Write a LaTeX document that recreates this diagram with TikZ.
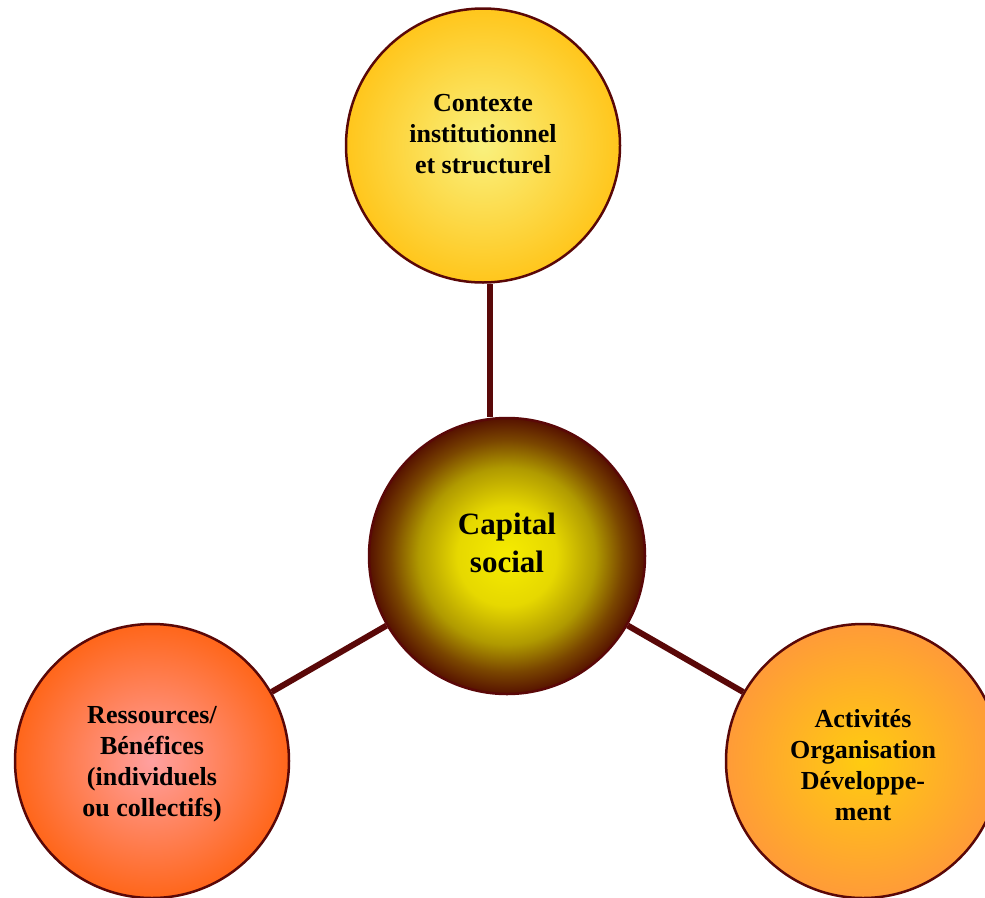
\documentclass[tikz,border=0pt]{standalone}
\usepackage{fontspec}
\setmainfont{Liberation Serif}
\definecolor{bordeau}{HTML}{5A0808}
\definecolor{contexteIn}{HTML}{F9F17E}
\definecolor{contexteOut}{HTML}{FFC61C}
\definecolor{capitalIn}{HTML}{F6EC00}
\definecolor{capitalMid}{HTML}{E6D800}
\definecolor{capitalDark}{HTML}{B09A00}
\definecolor{capitalRim}{HTML}{7A4600}
\definecolor{capitalOut}{HTML}{561200}
\definecolor{ressourcesIn}{HTML}{FFA0A0}
\definecolor{ressourcesOut}{HTML}{FF661A}
\definecolor{activitesIn}{HTML}{FFCC10}
\definecolor{activitesOut}{HTML}{FF9B38}
\pgfdeclareradialshading{contexteshade}{\pgfpoint{0bp}{0bp}}{color(0bp)=(contexteIn); color(25bp)=(contexteOut); color(50bp)=(contexteOut)}
\pgfdeclareradialshading{capitalshade}{\pgfpoint{0bp}{0bp}}{color(0bp)=(capitalIn); color(9bp)=(capitalMid); color(16bp)=(capitalDark); color(21bp)=(capitalRim); color(25bp)=(capitalOut); color(50bp)=(capitalOut)}
\pgfdeclareradialshading{ressourcesshade}{\pgfpoint{0bp}{0bp}}{color(0bp)=(ressourcesIn); color(25bp)=(ressourcesOut); color(50bp)=(ressourcesOut)}
\pgfdeclareradialshading{activitesshade}{\pgfpoint{0bp}{0bp}}{color(0bp)=(activitesIn); color(25bp)=(activitesOut); color(50bp)=(activitesOut)}

\begin{document}
\begin{tikzpicture}[x=1pt, y=-1pt,
		bulle/.style={circle, draw=bordeau, line width=2.5pt, minimum size=274pt, inner sep=0pt},
		texte/.style={align=center, font=\fontsize{26}{31}\selectfont\bfseries},
		lien/.style={draw=bordeau, line width=6pt}]
			\useasboundingbox (0, 0) rectangle (985, 897);
			\node[bulle, shading=contexteshade,
				label={[texte, yshift=11.5pt]center:Contexte\\institutionnel\\et structurel}] (contexte) at (483, 145.5) {};
			\node[bulle, shading=capitalshade, minimum size=276pt,
				label={[texte, font=\fontsize{31}{38}\selectfont\bfseries, yshift=13pt]center:Capital\\social}] (capital) at (507, 556) {};
			\node[bulle, shading=ressourcesshade,
				label={[texte, yshift=-3pt]center:Ressources/\\Bénéfices\\(individuels\\ou collectifs)}] (ressources) at (152, 761) {};
			\node[bulle, shading=activitesshade,
				label={[texte, yshift=-4pt]center:Activités\\Organisation\\Développe-\\ment}] (activites) at (863, 761) {};
			\draw[lien] ([xshift=7pt]contexte.south) -- ([xshift=-17pt]capital.north);
			\draw[lien] (capital) -- (ressources);
			\draw[lien] (capital) -- (activites);
		\end{tikzpicture}
\end{document}
